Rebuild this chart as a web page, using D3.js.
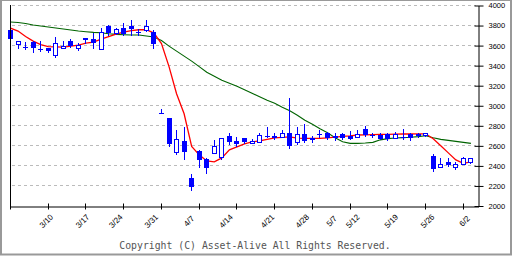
<!DOCTYPE html>
<html>
<head>
<meta charset="utf-8">
<script src="https://cdn.jsdelivr.net/npm/d3@7"></script>
<style>
body { margin: 0; background: #fff; }
svg { display: block; }
</style>
</head>
<body>
<div id="chart"></div>
<script>
// daily candles, one slot per trading day (index 0 .. 61)
var opens  = [3756,3613,3586,3639,3563,3579,3506,3579,3643,3576,3676,3663,3563,3795,3729,3773,3795,3733,3756,3733,
              2925,2878,2536,2648,2279,2549,2466,2532,2492,2698,2648,2675,2625,2641,2701,2698,2691,2725,2641,2715,
              2681,2718,2731,2698,2715,2698,2685,2768,2711,2708,2715,2681,2691,2715,2715,2708,2499,2392,2442,2392,
              2419,2442];
var highs  = [3760,3646,3636,3645,3643,3579,3683,3643,3666,3629,3676,3723,3773,3805,3773,3822,3855,3763,3855,3756,
              2968,2878,2758,2791,2319,2559,2476,2658,2682,2731,2691,2675,2665,2731,2791,2731,2758,3077,2791,2815,
              2698,2758,2741,2725,2725,2748,2758,2798,2725,2725,2725,2735,2765,2725,2725,2731,2519,2476,2476,2442,
              2486,2476];
var lows   = [3660,3573,3563,3539,3549,3539,3483,3573,3589,3556,3623,3579,3563,3706,3716,3706,3706,3706,3749,3579,
              2925,2601,2522,2469,2160,2392,2332,2532,2472,2618,2598,2625,2625,2641,2691,2665,2691,2582,2623,2641,
              2641,2685,2665,2658,2668,2668,2685,2698,2691,2668,2658,2681,2665,2658,2685,2698,2352,2392,2402,2366,
              2419,2432];
var closes = [3666,3646,3586,3579,3563,3549,3623,3599,3596,3606,3656,3623,3733,3723,3763,3716,3763,3726,3795,3620,
              2925,2621,2665,2542,2193,2459,2382,2596,2675,2641,2615,2641,2648,2708,2701,2675,2725,2601,2715,2651,
              2658,2718,2675,2675,2675,2668,2718,2708,2711,2668,2668,2715,2691,2675,2698,2731,2366,2416,2409,2419,
              2476,2476];

// moving averages
var maShort = [3775,3745,3690,3645,3610,3590,3587,3585,3595,3605,3625,3635,3665,3690,3715,3735,3750,3758,3760,3725,
               3620,3390,3120,2920,2595,2510,2450,2440,2480,2560,2590,2620,2640,2650,2665,2680,2685,2690,2678,2675,
               2675,2675,2680,2688,2695,2700,2708,2710,2712,2714,2715,2716,2718,2718,2720,2720,2670,2600,2530,2460,
               2425,2440];
var maLong  = [3835,3830,3820,3805,3795,3785,3775,3765,3755,3745,3738,3732,3728,3718,3712,3708,3705,3705,3695,3685,
               3650,3595,3545,3495,3445,3390,3335,3295,3255,3225,3195,3160,3125,3090,3055,3025,2985,2950,2905,2855,
               2815,2770,2730,2680,2640,2625,2625,2628,2635,2660,2672,2678,2682,2686,2692,2700,2680,2665,2655,2645,
               2635,2625];

// x axis: tick slots and date labels
var tickSlots  = [0,5,10,15,20,25,30,35,40,45,50,55,60];
var dateLabels = ["3/10","3/17","3/24","3/31","4/7","4/14","4/21","4/28","5/7","5/12","5/19","5/26","6/2"];
var labelSlots = [5.0,9.8,14.2,18.9,23.9,28.8,34.3,38.9,42.8,45.6,50.7,55.5,60.4];

var priceTicks = [2000,2200,2400,2600,2800,3000,3200,3400,3600,3800,4000];

var candles = opens.map(function(o, i) {
  return {i: i, o: o, h: highs[i], l: lows[i], c: closes[i]};
});

var svg = d3.select("#chart").append("svg").attr("width", 512).attr("height", 256);

var x = d3.scaleLinear().domain([0, 62]).range([10.5, 478.5]);
var y = d3.scaleLinear().domain([2000, 4000]).range([206, 5.5]);

function crisp(v) { return Math.round(v - 0.5) + 0.5; }

// frame
svg.append("rect").attr("x", 1).attr("y", 0.5).attr("width", 510).attr("height", 254)
  .attr("fill", "none").attr("stroke", "#999").attr("stroke-width", 2);
svg.append("rect").attr("x", 2).attr("y", 1).attr("width", 508).attr("height", 252).attr("fill", "#fff");

// grid
svg.append("g").selectAll("line")
  .data(priceTicks.slice(1))
  .enter().append("line")
    .attr("x1", 12).attr("x2", 476)
    .attr("y1", function(d) { return crisp(y(d)); })
    .attr("y2", function(d) { return crisp(y(d)); })
    .attr("stroke", "#bbb").attr("stroke-dasharray", "3,3");

// moving averages
var line = d3.line().x(function(d, i) { return x(i); }).y(function(d) { return y(d); });
svg.append("path").datum(maLong).attr("d", line)
  .attr("fill", "none").attr("stroke", "#006400").attr("stroke-width", 1.1);
svg.append("path").datum(maShort).attr("d", line)
  .attr("fill", "none").attr("stroke", "#ff0000").attr("stroke-width", 1.3);

// candles
var cg = svg.append("g");
cg.selectAll(".wick").data(candles).enter().append("line")
  .attr("class", "wick")
  .attr("x1", function(d) { return Math.floor(x(d.i)) + 0.5; })
  .attr("x2", function(d) { return Math.floor(x(d.i)) + 0.5; })
  .attr("y1", function(d) { return Math.round(y(d.h)); })
  .attr("y2", function(d) { return Math.round(y(d.l)) + 1; })
  .attr("stroke", "#0000ff");

cg.selectAll(".body").data(candles).enter().append("rect")
  .attr("class", "body")
  .attr("x", function(d) { return Math.floor(x(d.i)) - (d.c > d.o ? 1.5 : 2); })
  .attr("width", function(d) { return d.c > d.o ? 4 : 5; })
  .attr("y", function(d) {
    var t = Math.round(y(Math.max(d.o, d.c)));
    return d.c > d.o ? t + 0.5 : t;
  })
  .attr("height", function(d) {
    var h = Math.round(y(Math.min(d.o, d.c))) - Math.round(y(Math.max(d.o, d.c)));
    return d.c > d.o ? Math.max(h, 2) : Math.max(h, 1);
  })
  .attr("fill", function(d) { return d.c > d.o ? "#fff" : "#0000ff"; })
  .attr("stroke", function(d) { return d.c > d.o ? "#0000ff" : "none"; });

// left axis line
svg.append("line").attr("x1", 10.5).attr("x2", 10.5).attr("y1", 5).attr("y2", 206.5)
  .attr("stroke", "#000");

// right axis
var yAxis = svg.append("g")
  .attr("transform", "translate(478.5,0)")
  .call(d3.axisRight(y).tickValues(priceTicks).tickFormat(d3.format("d"))
    .tickSize(5).tickSizeOuter(0).tickPadding(5));
yAxis.select(".domain").attr("stroke", "#000");
yAxis.selectAll(".tick line").attr("x1", -4).attr("x2", 5).attr("stroke", "#000");
yAxis.selectAll(".tick text")
  .attr("font-family", "Liberation Sans, Arial, sans-serif")
  .attr("font-size", 7.5)
  .attr("fill", "#000");

// bottom axis
var xAxis = svg.append("g")
  .attr("transform", "translate(0,206.5)")
  .call(d3.axisBottom(x).tickValues(tickSlots).tickSize(3).tickSizeOuter(0).tickFormat(""));
xAxis.select(".domain").attr("stroke", "#000");
xAxis.selectAll(".tick").attr("transform", function(d) {
  return "translate(" + (Math.floor(x(d)) + 0.5) + ",0)";
});
xAxis.selectAll(".tick line").attr("y1", -3).attr("y2", 3).attr("stroke", "#000");

svg.append("g").selectAll("text")
  .data(dateLabels)
  .enter().append("text")
    .attr("transform", function(d, i) { return "translate(" + x(labelSlots[i]) + ",223) rotate(-45)"; })
    .attr("text-anchor", "middle")
    .attr("font-family", "Liberation Sans, Arial, sans-serif")
    .attr("font-size", 8)
    .attr("fill", "#000")
    .text(function(d) { return d; });

// copyright
svg.append("text")
  .attr("x", 255).attr("y", 249)
  .attr("text-anchor", "middle")
  .attr("font-family", "DejaVu Sans Mono, monospace")
  .attr("font-size", 9.8)
  .attr("fill", "#555")
  .text("Copyright (C) Asset-Alive All Rights Reserved.");
</script>
</body>
</html>
